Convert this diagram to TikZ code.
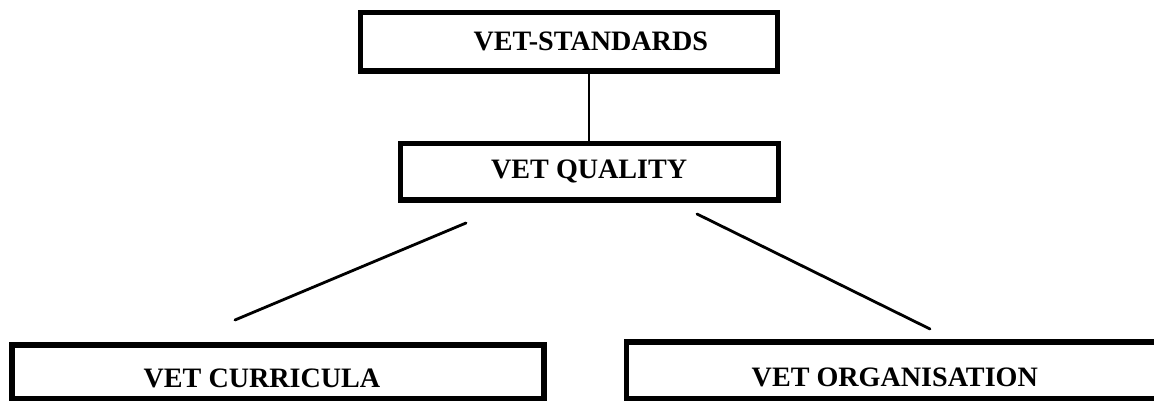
\documentclass[tikz,border=0pt]{standalone}
\usepackage{fontspec}
\setmainfont{Liberation Serif}
\usepackage{tikz}
\usetikzlibrary{positioning,calc}

\newcommand{\lowtext}[1]{\raisebox{-0.17cm}[\height][\depth]{#1}}

\begin{document}
\begin{tikzpicture}[
    vetbox/.style={draw,line width=3.8pt,inner sep=0pt,align=center,
      font=\fontsize{20}{23}\selectfont\bfseries},
    link/.style={line width=2pt,line cap=round}]
  \useasboundingbox (0,0) rectangle (28.85,10.025);
  \node[vetbox,minimum width=10.42cm,minimum height=1.46cm] (standards) at (14.22,8.98) {\hspace*{1.1cm}VET-STANDARDS};
  \node[vetbox,minimum width=9.45cm,minimum height=1.41cm] (quality) at (14.73,5.73) {VET QUALITY};
  \node[vetbox,minimum width=13.3cm,minimum height=1.34cm] (curricula) at (6.95,0.73) {\lowtext{VET CURRICULA}\hspace*{0.8cm}};
  \node[vetbox,minimum width=13.4cm,minimum height=1.41cm] (organisation) at (22.37,0.77) {\lowtext{VET ORGANISATION}};
  % free ends of the two slanted links
  \coordinate (qleft) at (11.65,4.45);
  \coordinate (cup) at (5.875,2.025);
  \coordinate (qright) at (17.425,4.675);
  \coordinate (oup) at (23.25,1.8);
  \draw[line width=1.2pt] (quality.north) -- (quality.north |- standards.south);
  \draw[link] (qleft) -- (cup);
  \draw[link] (qright) -- (oup);
\end{tikzpicture}
\end{document}
